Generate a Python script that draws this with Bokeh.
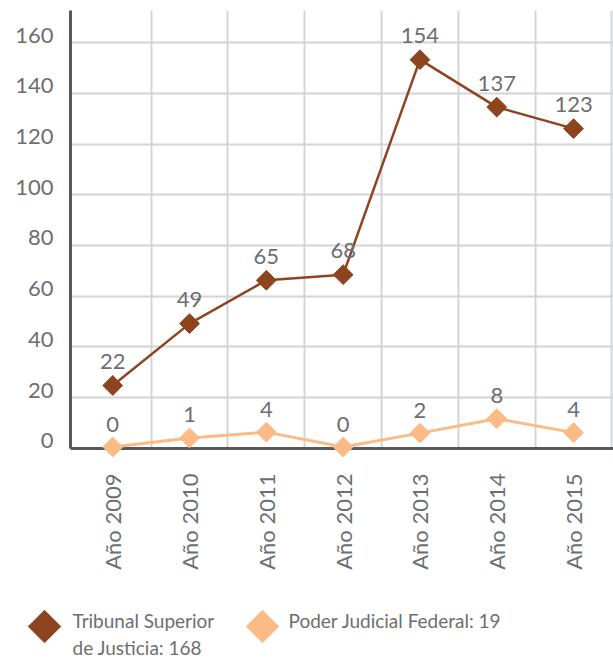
import math
from bokeh.plotting import figure
from bokeh.models import FixedTicker, Range1d
from bokeh.core.properties import value
from bokeh.embed import file_html
from bokeh.resources import INLINE

# ---- data ----
years = ["Año 2009", "Año 2010", "Año 2011", "Año 2012", "Año 2013", "Año 2014", "Año 2015"]
tsj_labels = [22, 49, 65, 68, 154, 137, 123]                 # Tribunal Superior de Justicia (printed values)
tsj_pos = [24.8, 49.2, 66.3, 68.5, 153.3, 134.6, 126.1]      # where the points sit in the picture
pjf_labels = [0, 1, 4, 0, 2, 8, 4]                            # Poder Judicial Federal (printed values)
pjf_pos = [0.5, 4.1, 6.4, 0.5, 6.0, 11.7, 6.2]
y_ticks = [0, 20, 40, 60, 80, 100, 120, 140, 160]
legend_labels = ["Tribunal Superior\nde Justicia: 168", "Poder Judicial Federal: 19"]

# ---- style ----
DARK = "#8F4420"
LIGHT = "#FBBB86"
GRID = "#D3D4D6"
AXIS = "#58595B"
TEXT = "#6D6E71"
FONT = "Lato"
FS = "22px"

Y_START, Y_END = -4, 172.7
LABEL_SHIFT = 3

x = list(range(len(years)))

p = figure(width=613, height=580,
           x_range=Range1d(-0.55, 6.52), y_range=Range1d(Y_START, Y_END),
           output_backend="svg", toolbar_location=None,
           min_border_left=70, min_border_right=0, min_border_top=10, min_border_bottom=122)
p.outline_line_color = None

# grid
p.xgrid.ticker = FixedTicker(ticks=[i + 0.5 for i in x])
p.ygrid.ticker = FixedTicker(ticks=y_ticks)
p.grid.grid_line_color = GRID
p.grid.grid_line_width = 2

# y axis
p.yaxis.ticker = FixedTicker(ticks=[t + LABEL_SHIFT for t in y_ticks])
p.yaxis.major_label_overrides = {t + LABEL_SHIFT: str(t) for t in y_ticks}
p.yaxis.bounds = (0, Y_END)
p.yaxis.axis_line_color = AXIS
p.yaxis.axis_line_width = 3
p.yaxis.major_tick_line_color = None
p.yaxis.minor_tick_line_color = None
p.yaxis.major_label_standoff = 11

# x axis
p.xaxis.ticker = FixedTicker(ticks=x)
p.xaxis.major_label_overrides = {i: years[i] for i in x}
p.xaxis.major_label_orientation = math.pi / 2
p.xaxis.axis_line_color = None
p.xaxis.major_tick_line_color = None
p.xaxis.minor_tick_line_color = None
p.xaxis.major_label_standoff = 9

for ax in (p.xaxis, p.yaxis):
    ax.major_label_text_font = FONT
    ax.major_label_text_font_size = FS
    ax.major_label_text_color = TEXT

# mask grid below zero and draw the zero axis line
p.hstrip(y0=[Y_START], y1=[0], fill_color="white", line_color=None)
p.hspan(y=[0], line_color=AXIS, line_width=3)

# series
p.line(x, pjf_pos, line_color=LIGHT, line_width=3)
p.scatter(x, pjf_pos, marker="square", angle=math.pi / 4, size=14,
          fill_color=LIGHT, line_color=LIGHT)
p.line(x, tsj_pos, line_color=DARK, line_width=2.5)
p.scatter(x, tsj_pos, marker="square", angle=math.pi / 4, size=14,
          fill_color=DARK, line_color=DARK)

p.text(x, tsj_pos, text=[str(v) for v in tsj_labels], text_align="center",
       text_baseline="alphabetic", y_offset=-24, text_font=value(FONT),
       text_font_size=FS, text_color=TEXT)
p.text(x, pjf_pos, text=[str(v) for v in pjf_labels], text_align="center",
       text_baseline="alphabetic", y_offset=-23, text_font=value(FONT),
       text_font_size=FS, text_color=TEXT)

# ---- legend (separate root, coordinates in page pixels) ----
lf = figure(width=613, height=81, x_range=Range1d(0, 613), y_range=Range1d(661, 580),
            output_backend="svg", toolbar_location=None,
            x_axis_location=None, y_axis_location=None,
            min_border_left=0, min_border_right=0, min_border_top=0, min_border_bottom=0)
lf.outline_line_color = None
lf.grid.visible = False
lf.scatter([44, 262], [626, 626], marker="square", angle=math.pi / 4, size=23,
           fill_color=[DARK, LIGHT], line_color=[DARK, LIGHT])
lf.text([72, 288], [608, 608], text=legend_labels, text_align="left", text_baseline="top",
        text_line_height=1.2, text_font=value(FONT), text_font_size="19px", text_color=TEXT)

open("out.html", "w").write(file_html([p, lf], INLINE))
